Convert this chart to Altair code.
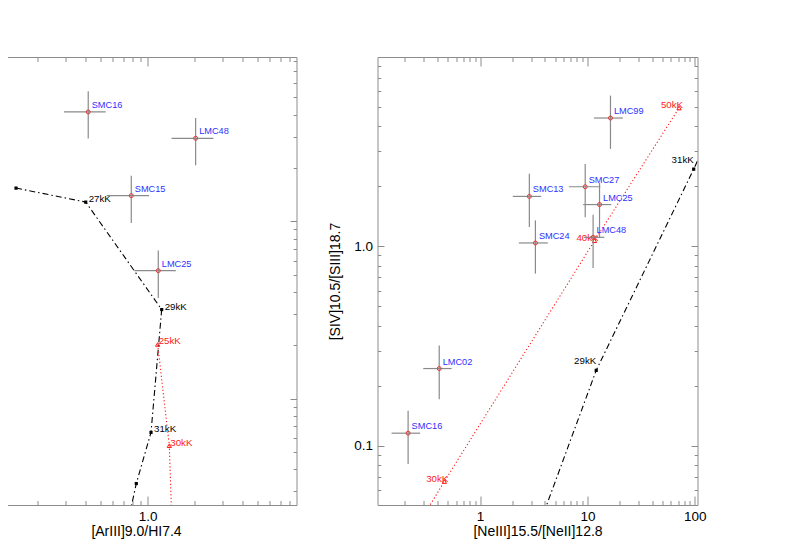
import altair as alt
import pandas as pd

# ---------------- data ----------------
# Left panel: observations ([ArIII]9.0/HI7.4 on x)
L_NAMES = ["SMC16", "LMC48", "SMC15", "LMC25"]
L_X = [0.418, 2.02, 0.786, 1.168]
L_X_LO = [0.293, 1.42, 0.548, 0.822]
L_X_HI = [0.540, 2.62, 1.02, 1.51]
L_Y = [41.4, 29.4, 13.96, 5.27]
L_Y_LO = [29.3, 20.7, 9.78, 3.69]
L_Y_HI = [54.1, 38.3, 18.1, 6.84]

# Left panel: model tracks
L_BLACK_T = ["", "27kK", "29kK", "31kK", "", ""]
L_BLACK_X = [0.145, 0.403, 1.228, 1.05, 0.846, 0.727]
L_BLACK_Y = [15.4, 12.84, 3.18, 0.645, 0.332, 0.179]
L_RED_T = ["25kK", "30kK", ""]
L_RED_X = [1.158, 1.373, 1.439]
L_RED_Y = [2.02, 0.543, 0.157]

# Right panel: observations
R_NAMES = ["LMC99", "SMC27", "SMC13", "LMC25", "LMC48", "SMC24", "LMC02", "SMC16"]
R_X = [16.4, 9.54, 2.88, 12.97, 11.3, 3.28, 0.417, 0.214]
R_X_LO = [11.5, 6.72, 2.02, 9.14, 9.27, 2.30, 0.296, 0.150]
R_X_HI = [21.4, 13.2, 3.71, 16.7, 14.4, 4.28, 0.544, 0.277]
R_Y = [4.40, 1.99, 1.78, 1.62, 1.11, 1.04, 0.244, 0.1157]
R_Y_LO = [3.08, 1.40, 1.25, 1.10, 0.78, 0.73, 0.171, 0.081]
R_Y_HI = [5.70, 2.59, 2.31, 2.08, 1.44, 1.35, 0.318, 0.150]

# Right panel: model tracks
R_BLACK_T = ["", "29kK", "31kK", ""]
R_BLACK_X = [1.95, 12.08, 97.7, 272.0]
R_BLACK_Y = [0.0166, 0.239, 2.44, 8.1]
R_RED_T = ["", "30kK", "40kK", "50kK"]
R_RED_X = [0.165, 0.465, 11.65, 71.4]
R_RED_Y = [0.0263, 0.0662, 1.068, 4.94]

# axis ticks and labels
L_XLABELS = [1.0]
L_XTICK_MAJOR = [0.1, 1.0]
L_XTICK_MINOR = [0.09, 0.2, 0.3, 0.4, 0.5, 0.6, 0.7, 0.8, 0.9, 2, 3, 4, 5, 6, 7, 8]
L_YTICK_MAJOR = [1, 10]
L_YTICK_MINOR = [0.3, 0.4, 0.5, 0.6, 0.7, 0.8, 0.9, 2, 3, 4, 5, 6, 7, 8, 9,
                 20, 30, 40, 50, 60, 70, 80]
R_XTICK_MAJOR = [1, 10, 100]
R_XTICK_MINOR = [0.2, 0.3, 0.4, 0.5, 0.6, 0.7, 0.8, 0.9, 2, 3, 4, 5, 6, 7, 8, 9,
                 20, 30, 40, 50, 60, 70, 80, 90]
R_YTICK_MAJOR = [0.1, 1.0]
R_YTICK_MINOR = [0.06, 0.07, 0.08, 0.09, 0.2, 0.3, 0.4, 0.5, 0.6, 0.7, 0.8, 0.9,
                 2, 3, 4, 5, 6, 7, 8]

# ---------------- style ----------------
FONT = "Liberation Sans"
GRAY = "#8c8c8c"
ERR = "#8a8a8a"
BLUE = "#3030ff"
PT_RED = "#e03a3a"
RED = "#ff1a1a"

XMAJ, XMIN = 9, 4.5     # tick lengths on x axes
YMAJ, YMIN = 6.5, 3.3   # tick lengths on y axes


def ax(**kw):
    d = dict(grid=False, domain=False, ticks=False, labels=False, title=None)
    d.update(kw)
    return alt.Axis(**d)


def tick_ax(orient, values, size):
    return ax(orient=orient, values=values, ticks=True, tickSize=size,
              offset=-size, tickColor=GRAY, tickWidth=1)


def dom_ax(orient, values):
    return ax(orient=orient, values=values, domain=True, domainColor=GRAY,
              domainWidth=1)


def label_ax(orient, values, fmt, title, lpad, tpad, **extra):
    d = dict(orient=orient, values=values, domain=True, domainColor=GRAY,
             domainWidth=1, labels=True, format=fmt, labelFontSize=13.5,
             labelColor="black", labelPadding=lpad, tickSize=0,
             labelFlush=False, labelOverlap=False, labelFont=FONT,
             title=title, titleFontSize=14, titleFontWeight="normal",
             titleColor="black", titlePadding=tpad, titleFont=FONT)
    d.update(extra)
    return ax(**d)


dummy = pd.DataFrame({"x": [1.0], "y": [1.0]})


def axis_layer(xs, ys, xaxis, yaxis):
    return alt.Chart(dummy).mark_point(opacity=0).encode(
        x=alt.X("x:Q", scale=xs, axis=xaxis),
        y=alt.Y("y:Q", scale=ys, axis=yaxis),
    )


def obs_layers(names, x, xlo, xhi, y, ylo, yhi, xs, ys):
    df = pd.DataFrame({"name": names, "x": x, "x_lo": xlo, "x_hi": xhi,
                       "y": y, "y_lo": ylo, "y_hi": yhi})
    base = alt.Chart(df)
    hbar = base.mark_rule(color=ERR, strokeWidth=1.2).encode(
        x=alt.X("x_lo:Q", scale=xs, axis=None), x2="x_hi:Q",
        y=alt.Y("y:Q", scale=ys, axis=None))
    vbar = base.mark_rule(color=ERR, strokeWidth=1.2).encode(
        x=alt.X("x:Q", scale=xs, axis=None),
        y=alt.Y("y_lo:Q", scale=ys, axis=None), y2="y_hi:Q")
    pts = base.mark_point(shape="circle", size=16, filled=False, color=PT_RED,
                          strokeWidth=1, opacity=1).encode(
        x=alt.X("x:Q", scale=xs, axis=None),
        y=alt.Y("y:Q", scale=ys, axis=None))
    txt = base.mark_text(align="left", baseline="middle", dx=3.5, dy=-7,
                         fontSize=9.2, color=BLUE, font=FONT).encode(
        x=alt.X("x:Q", scale=xs, axis=None),
        y=alt.Y("y:Q", scale=ys, axis=None), text="name:N")
    return [hbar, vbar, pts, txt]


def model_layers(t, x, y, xs, ys, color, dash, shape, filled, size, lab):
    df = pd.DataFrame({"i": list(range(len(x))), "t": t, "x": x, "y": y})
    enc = dict(x=alt.X("x:Q", scale=xs, axis=None),
               y=alt.Y("y:Q", scale=ys, axis=None))
    line = alt.Chart(df).mark_line(color=color, strokeDash=dash, strokeWidth=1.1,
                                   clip=True).encode(order="i:Q", **enc)
    pts = alt.Chart(df).mark_point(shape=shape, filled=filled, size=size,
                                   color=color, strokeWidth=1, opacity=1,
                                   clip=True).encode(**enc)
    txt = alt.Chart(df[df["t"] != ""]).mark_text(
        color=color, fontSize=9.7, font=FONT, baseline="middle", **lab
    ).encode(text="t:N", **enc)
    return [line, pts, txt]


NO_FRAME = alt.ViewBackground(strokeWidth=0, strokeOpacity=0)

# ---------------- left panel (its left part lies beyond the page edge) ----
LW, LH = 321, 448
lxs = alt.Scale(type="log", domain=[0.0800, 8.87], nice=False)
lys = alt.Scale(type="log", domain=[0.2512, 84.5], nice=False)

left_axes = [
    axis_layer(lxs, lys, label_ax("bottom", L_XLABELS, ".1f",
                                  "[ArIII]9.0/HI7.4", 4, 2),
               dom_ax("right", L_YTICK_MAJOR)),
    axis_layer(lxs, lys, tick_ax("bottom", L_XTICK_MAJOR, XMAJ),
               tick_ax("right", L_YTICK_MAJOR, YMAJ)),
    axis_layer(lxs, lys, tick_ax("bottom", L_XTICK_MINOR, XMIN),
               tick_ax("right", L_YTICK_MINOR, YMIN)),
    axis_layer(lxs, lys, dom_ax("top", L_XTICK_MAJOR), None),
    axis_layer(lxs, lys, tick_ax("top", L_XTICK_MAJOR, XMAJ), None),
    axis_layer(lxs, lys, tick_ax("top", L_XTICK_MINOR, XMIN), None),
]
left_layers = (
    model_layers(L_BLACK_T, L_BLACK_X, L_BLACK_Y, lxs, lys, "black",
                 [6, 3, 1.5, 3], "square", True, 10,
                 dict(align="left", dx=3, dy=-3))
    + model_layers(L_RED_T, L_RED_X, L_RED_Y, lxs, lys, RED, [1.2, 2.3],
                   "triangle-up", False, 18, dict(align="left", dx=1, dy=-3))
    + obs_layers(L_NAMES, L_X, L_X_LO, L_X_HI, L_Y, L_Y_LO, L_Y_HI, lxs, lys)
)
left = alt.layer(*left_axes, *left_layers).resolve_axis(
    x="independent", y="independent").properties(width=LW, height=LH,
                                                 view=NO_FRAME)

# ---------------- right panel ----------------
RW, RH = 320, 448
rxs = alt.Scale(type="log", domain=[0.111, 106.0], nice=False)
rys = alt.Scale(type="log", domain=[0.0505, 8.9], nice=False)

right_axes = [
    axis_layer(rxs, rys, label_ax("bottom", R_XTICK_MAJOR, "d",
                                  "[NeIII]15.5/[NeII]12.8", 4, 2),
               label_ax("left", R_YTICK_MAJOR, ".1f", "[SIV]10.5/[SIII]18.7",
                        5, 11)),
    axis_layer(rxs, rys, tick_ax("bottom", R_XTICK_MAJOR, XMAJ),
               tick_ax("left", R_YTICK_MAJOR, YMAJ)),
    axis_layer(rxs, rys, tick_ax("bottom", R_XTICK_MINOR, XMIN),
               tick_ax("left", R_YTICK_MINOR, YMIN)),
    axis_layer(rxs, rys, dom_ax("top", R_XTICK_MAJOR),
               dom_ax("right", R_YTICK_MAJOR)),
    axis_layer(rxs, rys, tick_ax("top", R_XTICK_MAJOR, XMAJ),
               tick_ax("right", R_YTICK_MAJOR, YMAJ)),
    axis_layer(rxs, rys, tick_ax("top", R_XTICK_MINOR, XMIN),
               tick_ax("right", R_YTICK_MINOR, YMIN)),
]
right_layers = (
    model_layers(R_BLACK_T, R_BLACK_X, R_BLACK_Y, rxs, rys, "black",
                 [6, 3, 1.5, 3], "square", True, 10,
                 dict(align="right", dx=0, dy=-9))
    + model_layers(R_RED_T, R_RED_X, R_RED_Y, rxs, rys, RED, [1.2, 2.3],
                   "triangle-up", False, 18, dict(align="right", dx=4, dy=-3))
    + obs_layers(R_NAMES, R_X, R_X_LO, R_X_HI, R_Y, R_Y_LO, R_Y_HI, rxs, rys)
)
right = alt.layer(*right_axes, *right_layers).resolve_axis(
    x="independent", y="independent").properties(width=RW, height=RH,
                                                 view=NO_FRAME)

chart = (
    alt.hconcat(left, right, spacing=31)
    .properties(padding={"left": -32.5, "top": 48, "right": 10, "bottom": 10})
    .configure_view(strokeWidth=0, strokeOpacity=0)
    .configure_text(font=FONT)
)

chart.save("out.html", embed_options={"renderer": "svg", "actions": False})
